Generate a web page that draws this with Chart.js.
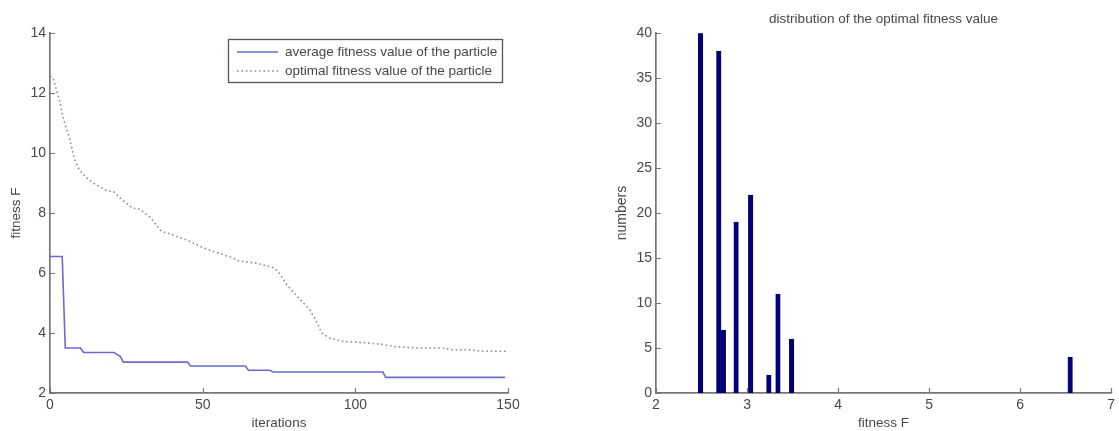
<!DOCTYPE html>
<html>
<head>
<meta charset="utf-8">
<script src="https://cdn.jsdelivr.net/npm/chart.js@4.4.1/dist/chart.umd.min.js"></script>
<style>
  body { margin: 0; background: #fff; width: 1119px; height: 431px; overflow: hidden; position: relative; }
  canvas { position: absolute; top: 0; }
  #convergence { left: 0; }
  #distribution { left: 560px; }
</style>
</head>
<body>
<canvas id="convergence" width="560" height="431"></canvas>
<canvas id="distribution" width="559" height="431"></canvas>
<script>
// left plot: fitness per iteration
const avgIter    = [0, 4, 5, 10, 11, 21, 22, 23, 24, 45, 46, 64, 65, 72, 73, 109, 110, 149];
const avgFitness = [6.55, 6.55, 3.5, 3.5, 3.35, 3.35, 3.28, 3.22, 3.03, 3.03, 2.9, 2.9, 2.76, 2.76, 2.7, 2.7, 2.52, 2.52];

const optIter    = [0, 1, 3, 4.5, 6.5, 8, 9.5, 12, 15, 18.5, 21, 23.5, 27, 29.5, 33, 36.5, 40, 46, 49, 53.5, 60, 62,
                    67.5, 73.5, 75.5, 77.5, 82, 85, 87, 89, 91.5, 96, 104, 109.5, 112.5, 120, 129, 132, 138.5, 141, 149.5];
const optFitness = [12.56, 12.5, 11.8, 11.1, 10.45, 9.8, 9.45, 9.17, 8.94, 8.75, 8.7, 8.45, 8.17, 8.12, 7.83, 7.39, 7.28, 7.05, 6.89, 6.72, 6.5, 6.4,
                    6.33, 6.17, 5.94, 5.61, 5.11, 4.78, 4.44, 4.0, 3.83, 3.72, 3.67, 3.61, 3.55, 3.5, 3.5, 3.44, 3.44, 3.39, 3.39];

const iterTicks    = [0, 50, 100, 150];
const fitnessTicks = [2, 4, 6, 8, 10, 12, 14];

// right plot: histogram of optimal fitness
const binCenters = [2.49, 2.69, 2.74, 2.88, 3.04, 3.24, 3.34, 3.49, 6.55];
const binCounts  = [40, 38, 7, 19, 22, 2, 11, 6, 4];

const histXTicks = [2, 3, 4, 5, 6, 7];
const histYTicks = [0, 5, 10, 15, 20, 25, 30, 35, 40];

const seriesNames = ['average fitness value of the particle', 'optimal fitness value of the particle'];

const FONT = "'Liberation Sans', Arial, sans-serif";
const AXIS = '#777';
const TEXT = '#484848';

// matlab style ticks pointing into the plot
const innerTicks = {
  id: 'innerTicks',
  afterDraw(chart) {
    const { ctx, chartArea } = chart;
    const xs = chart.scales.x, ys = chart.scales.y;
    ctx.save();
    ctx.strokeStyle = AXIS;
    ctx.lineWidth = 1.2;
    ctx.beginPath();
    xs.ticks.forEach(t => {
      const p = Math.round(xs.getPixelForValue(t.value)) + 0.5;
      ctx.moveTo(p, chartArea.bottom);
      ctx.lineTo(p, chartArea.bottom - 5);
    });
    ys.ticks.forEach(t => {
      const p = Math.round(ys.getPixelForValue(t.value)) + 0.5;
      ctx.moveTo(chartArea.left, p);
      ctx.lineTo(chartArea.left + 5, p);
    });
    ctx.stroke();
    ctx.restore();
  }
};

// boxed legend inside the top right corner
const boxLegend = {
  id: 'boxLegend',
  afterDraw(chart) {
    const { ctx, chartArea } = chart;
    const w = 274, h = 43;
    const x = chartArea.right - 6 - w, y = chartArea.top + 6;
    ctx.save();
    ctx.fillStyle = '#fff';
    ctx.fillRect(x, y, w, h);
    ctx.strokeStyle = '#555';
    ctx.lineWidth = 1.3;
    ctx.strokeRect(x + 0.5, y + 0.5, w, h);
    ctx.font = '13.5px ' + FONT;
    ctx.textBaseline = 'middle';
    chart.data.datasets.forEach((ds, i) => {
      const ly = y + 13 + i * 19;
      ctx.strokeStyle = ds.borderColor;
      ctx.lineWidth = ds.borderWidth;
      ctx.setLineDash(ds.borderDash || []);
      ctx.beginPath();
      ctx.moveTo(x + 9, ly);
      ctx.lineTo(x + 50, ly);
      ctx.stroke();
      ctx.setLineDash([]);
      ctx.fillStyle = TEXT;
      ctx.fillText(ds.label, x + 57, ly);
    });
    ctx.restore();
  }
};

function axisStyle(tickList, titleText, titleSize, titlePad) {
  return {
    type: 'linear',
    min: tickList[0],
    max: tickList[tickList.length - 1],
    afterBuildTicks: s => { s.ticks = tickList.map(v => ({ value: v })); },
    grid: { display: false, drawTicks: false },
    border: { display: true, color: AXIS, width: 1.7 },
    ticks: { color: TEXT, font: { family: FONT, size: 14 }, padding: 4, maxRotation: 0 },
    title: { display: true, text: titleText, color: TEXT, font: { family: FONT, size: titleSize }, padding: titlePad }
  };
}

const lx = axisStyle(iterTicks, 'iterations', 13.5, { top: 0, bottom: 0 });
lx.afterFit = s => { s.height = 38; };
const ly = axisStyle(fitnessTicks, 'fitness F', 13.5, { top: 8, bottom: 0 });
ly.afterFit = s => { s.width = 50; };

new Chart(document.getElementById('convergence'), {
  type: 'line',
  data: {
    datasets: [{
      label: seriesNames[0],
      data: avgIter.map((x, i) => ({ x, y: avgFitness[i] })),
      borderColor: '#6a6ad0',
      borderWidth: 1.6,
      pointRadius: 0,
      tension: 0
    }, {
      label: seriesNames[1],
      data: optIter.map((x, i) => ({ x, y: optFitness[i] })),
      borderColor: '#8a8aa2',
      borderWidth: 1.6,
      borderDash: [1.6, 2.8],
      pointRadius: 0,
      tension: 0
    }]
  },
  options: {
    responsive: false,
    animation: false,
    layout: { padding: { top: 33, right: 52, left: 0, bottom: 0 } },
    plugins: { legend: { display: false }, tooltip: { enabled: false } },
    scales: { x: lx, y: ly }
  },
  plugins: [innerTicks, boxLegend]
});

const rx = axisStyle(histXTicks, 'fitness F', 13.5, { top: 0, bottom: 0 });
rx.offset = false;
rx.afterFit = s => { s.height = 38; };
const ry = axisStyle(histYTicks, 'numbers', 14, { top: 54, bottom: 0 });
ry.afterFit = s => { s.width = 96; };

new Chart(document.getElementById('distribution'), {
  type: 'bar',
  data: {
    datasets: [{
      label: 'numbers',
      data: binCenters.map((x, i) => ({ x, y: binCounts[i] })),
      backgroundColor: '#000080',
      borderColor: '#00003a',
      borderWidth: 0.6,
      barThickness: 4.5
    }]
  },
  options: {
    responsive: false,
    animation: false,
    layout: { padding: { top: 0, right: 7, left: 0, bottom: 0 } },
    plugins: {
      legend: { display: false },
      tooltip: { enabled: false },
      title: {
        display: true,
        fullSize: false,
        text: 'distribution of the optimal fitness value',
        color: TEXT,
        font: { family: FONT, size: 13.5, weight: 'normal' },
        padding: { top: 11, bottom: 6 }
      }
    },
    scales: { x: rx, y: ry }
  },
  plugins: [innerTicks]
});
</script>
</body>
</html>
